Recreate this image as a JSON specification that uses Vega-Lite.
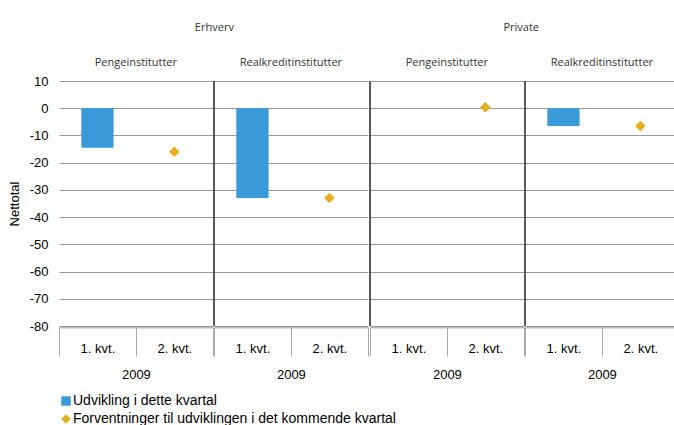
{
  "$schema": "https://vega.github.io/schema/vega-lite/v6.json",
  "padding": {"left": 8, "top": 22, "right": 0, "bottom": 0},
  "data": {"values": [
    {"sector": "Erhverv", "inst": "Pengeinstitutter", "q": "1. kvt.", "series": "Udvikling i dette kvartal", "value": -14.5},
    {"sector": "Erhverv", "inst": "Pengeinstitutter", "q": "2. kvt.", "series": "Forventninger til udviklingen i det kommende kvartal", "value": -16},
    {"sector": "Erhverv", "inst": "Realkreditinstitutter", "q": "1. kvt.", "series": "Udvikling i dette kvartal", "value": -33},
    {"sector": "Erhverv", "inst": "Realkreditinstitutter", "q": "2. kvt.", "series": "Forventninger til udviklingen i det kommende kvartal", "value": -33},
    {"sector": "Private", "inst": "Pengeinstitutter", "q": "1. kvt.", "series": "Udvikling i dette kvartal", "value": 0},
    {"sector": "Private", "inst": "Pengeinstitutter", "q": "2. kvt.", "series": "Forventninger til udviklingen i det kommende kvartal", "value": 0.4},
    {"sector": "Private", "inst": "Realkreditinstitutter", "q": "1. kvt.", "series": "Udvikling i dette kvartal", "value": -6.5},
    {"sector": "Private", "inst": "Realkreditinstitutter", "q": "2. kvt.", "series": "Forventninger til udviklingen i det kommende kvartal", "value": -6.5}
  ]},
  "spacing": 0,
  "hconcat": [
    {
      "title": {"text": "Erhverv", "font": "Open Sans", "fontSize": 11, "fontWeight": "normal", "color": "#333", "anchor": "middle", "dx": 26, "offset": 24},
      "transform": [{"filter": "datum.sector == 'Erhverv'"}],
      "facet": {"column": {"field": "inst", "type": "nominal", "header": {"title": null, "labelFont": "Open Sans", "labelFontSize": 11, "labelColor": "#333", "labelPadding": 12}}},
      "spacing": 0,
      "spec": {
        "width": 153.75,
        "height": 245,
        "encoding": {
          "x": {"field": "q", "type": "nominal", "scale": {"paddingInner": 0, "paddingOuter": 0},
            "axis": {"title": "2009", "labelAngle": 0, "tickBand": "extent", "tickSize": 29, "tickColor": "#aaa", "domainColor": "#bbb", "domainWidth": 2, "labelPadding": -14, "titlePadding": 12, "labelFont": "Liberation Sans", "labelFontSize": 13, "labelColor": "#000", "titleFont": "Liberation Sans", "titleFontSize": 13, "titleFontWeight": "normal", "titleColor": "#000", "grid": false}},
          "y": {"field": "value", "type": "quantitative", "scale": {"domain": [-80, 10], "nice": false},
            "axis": {"title": "Nettotal", "values": [10, 0, -10, -20, -30, -40, -50, -60, -70, -80], "labelExpr": "'' + datum.value", "grid": true, "gridColor": "#999", "ticks": false, "domain": false, "labelPadding": 11, "titlePadding": 8, "labelFont": "Liberation Sans", "labelFontSize": 13, "labelColor": "#000", "titleFont": "Liberation Sans", "titleFontSize": 13, "titleFontWeight": "normal", "titleColor": "#000"}}
        },
        "layer": [
          {
            "transform": [{"filter": "datum.q == '1. kvt.' && datum.inst != 'Pengeinstitutter'"}],
            "mark": {"type": "rule", "color": "#222", "strokeWidth": 1.5},
            "encoding": {"x": {"field": "q", "type": "nominal", "bandPosition": 0}, "y": null}
          },
          {
            "transform": [{"filter": "datum.q == '1. kvt.'"}],
            "mark": {"type": "bar", "width": {"band": 0.42}, "color": "#3A9AD9"},
            "encoding": {}
          },
          {
            "transform": [{"filter": "datum.q == '2. kvt.'"}],
            "mark": {"type": "point", "filled": true, "opacity": 1, "size": 110},
            "encoding": {
              "color": {"field": "series", "type": "nominal", "scale": {"domain": ["Udvikling i dette kvartal", "Forventninger til udviklingen i det kommende kvartal"], "range": ["#3A9AD9", "#E5AE1F"]}, "legend": {"title": null}},
              "shape": {"field": "series", "type": "nominal", "scale": {"domain": ["Udvikling i dette kvartal", "Forventninger til udviklingen i det kommende kvartal"], "range": ["square", "diamond"]}, "legend": {"title": null}}
            }
          }
        ]
      }
    },
    {
      "title": {"text": "Private", "font": "Open Sans", "fontSize": 11, "fontWeight": "normal", "color": "#333", "anchor": "middle", "dx": -3, "offset": 24},
      "transform": [{"filter": "datum.sector == 'Private'"}],
      "facet": {"column": {"field": "inst", "type": "nominal", "header": {"title": null, "labelFont": "Open Sans", "labelFontSize": 11, "labelColor": "#333", "labelPadding": 12}}},
      "spacing": 0,
      "spec": {
        "width": 153.75,
        "height": 245,
        "encoding": {
          "x": {"field": "q", "type": "nominal", "scale": {"paddingInner": 0, "paddingOuter": 0},
            "axis": {"title": "2009", "labelAngle": 0, "tickBand": "extent", "tickSize": 29, "tickColor": "#aaa", "domainColor": "#bbb", "domainWidth": 2, "labelPadding": -14, "titlePadding": 12, "labelFont": "Liberation Sans", "labelFontSize": 13, "labelColor": "#000", "titleFont": "Liberation Sans", "titleFontSize": 13, "titleFontWeight": "normal", "titleColor": "#000", "grid": false}},
          "y": {"field": "value", "type": "quantitative", "scale": {"domain": [-80, 10], "nice": false},
            "axis": {"title": null, "values": [10, 0, -10, -20, -30, -40, -50, -60, -70, -80], "grid": true, "gridColor": "#999", "ticks": false, "domain": false, "labels": false, "labelPadding": 0, "minExtent": 0, "maxExtent": 0}}
        },
        "layer": [
          {
            "transform": [{"filter": "datum.q == '1. kvt.'"}],
            "mark": {"type": "rule", "color": "#222", "strokeWidth": 1.5},
            "encoding": {"x": {"field": "q", "type": "nominal", "bandPosition": 0}, "y": null}
          },
          {
            "transform": [{"filter": "datum.q == '1. kvt.'"}],
            "mark": {"type": "bar", "width": {"band": 0.42}, "color": "#3A9AD9"},
            "encoding": {}
          },
          {
            "transform": [{"filter": "datum.q == '2. kvt.'"}],
            "mark": {"type": "point", "filled": true, "opacity": 1, "size": 110},
            "encoding": {
              "color": {"field": "series", "type": "nominal", "scale": {"domain": ["Udvikling i dette kvartal", "Forventninger til udviklingen i det kommende kvartal"], "range": ["#3A9AD9", "#E5AE1F"]}, "legend": {"title": null}},
              "shape": {"field": "series", "type": "nominal", "scale": {"domain": ["Udvikling i dette kvartal", "Forventninger til udviklingen i det kommende kvartal"], "range": ["square", "diamond"]}, "legend": {"title": null}}
            }
          }
        ]
      }
    }
  ],
  "config": {
    "view": {"stroke": null},
    "axis": {"titleFontWeight": "normal"},
    "legend": {"orient": "bottom", "direction": "vertical", "labelFont": "Liberation Sans", "labelFontSize": 14, "labelColor": "#000", "symbolSize": 90, "rowPadding": 4, "offset": 12, "labelOffset": 0, "padding": 0, "labelLimit": 500}
  }
}
